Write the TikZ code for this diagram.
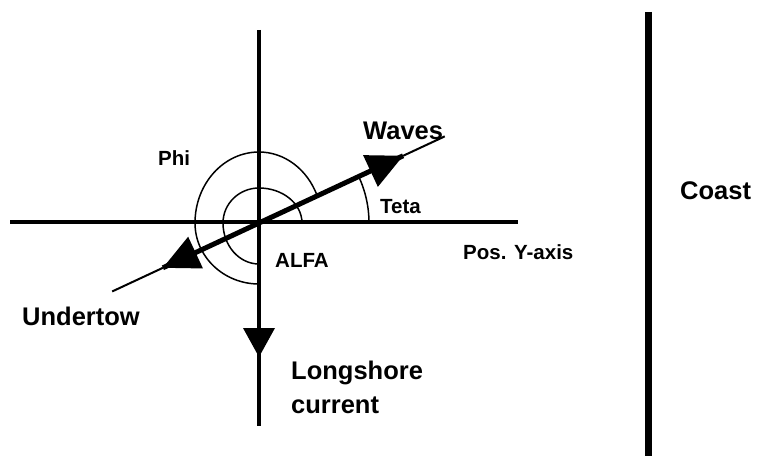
\documentclass[tikz,border=0pt]{standalone}
\usepackage{fontspec}
\setmainfont{Liberation Sans}
\usetikzlibrary{calc}
\tikzset{
  axis/.style={line width=4.5pt},
  thinline/.style={line width=2pt},
  angarc/.style={line width=1.5pt},
  head/.style={fill=black},
  biglabel/.style={inner sep=0pt, font=\fontsize{25.5}{34}\selectfont\bfseries},
  smalllabel/.style={inner sep=0pt, font=\fontsize{20.5}{24}\selectfont\bfseries},
}
\begin{document}
\begin{tikzpicture}[x=1pt,y=1pt]
\useasboundingbox (0,0) rectangle (759,456);
% centre and axis ends
\coordinate (O) at (259,233);
\coordinate (vtop) at (259,426);
\coordinate (vbot) at (259,30);
\coordinate (hl) at (10,234);
\coordinate (hr) at (518,234);
\coordinate (ctop) at (648,444);
\coordinate (cbot) at (648,0);
% wave direction
\coordinate (wtip) at ($(O)+(25:159)$);
\coordinate (wend) at ($(O)+(25:205)$);
\coordinate (wb1) at ($(O)+(25:123)+(115:17.5)$);
\coordinate (wb2) at ($(O)+(25:123)+(-65:17.5)$);
\coordinate (utip) at ($(O)+(205:106)$);
\coordinate (uend) at ($(O)+(205:162)$);
\coordinate (ub1) at ($(O)+(205:70)+(115:17.5)$);
\coordinate (ub2) at ($(O)+(205:70)+(-65:17.5)$);
% longshore arrow
\coordinate (ltip) at (259,99);
\coordinate (lb1) at (243,128);
\coordinate (lb2) at (275,128);

% arcs
\draw[angarc] ($(O)+(110,0)$) arc[start angle=0,end angle=25,radius=110];
\draw[angarc] ($(O)+(43,0)$)
  arc[start angle=0,end angle=90,x radius=43,y radius=35]
  arc[start angle=90,end angle=180,x radius=36,y radius=35]
  arc[start angle=180,end angle=270,x radius=36,y radius=41];
\draw[angarc] ($(O)+(22.5:63 and 71)$)
  arc[start angle=22.5,end angle=90,x radius=63,y radius=71]
  arc[start angle=90,end angle=180,x radius=64,y radius=71]
  arc[start angle=180,end angle=270,x radius=64,y radius=61];

% axes
\draw[axis] (vtop) -- (vbot);
\draw[axis] (hl) -- (hr);
\draw[line width=7pt] (ctop) -- (cbot);

% wave line
\draw[line width=5pt] (utip) -- (wtip);
\draw[thinline] (wtip) -- (wend);
\draw[thinline] (utip) -- (uend);
\fill[head] (wtip) -- (wb1) -- (wb2) -- cycle;
\fill[head] (utip) -- (ub1) -- (ub2) -- cycle;
\fill[head] (ltip) -- (lb1) -- (lb2) -- cycle;

% labels
\node[smalllabel, anchor=base west] (phi) at (158,291) {Phi};
\node[biglabel, anchor=base west] (waves) at (363,317) {Waves};
\node[smalllabel, anchor=base west] (teta) at (380,243) {Teta};
\node[smalllabel, anchor=base west] (alfa) at (275,189) {ALFA};
\node[smalllabel, anchor=base west] (posy) at (463,197) {Pos. Y-axis};
\node[biglabel, anchor=base west, align=left] (long) at (291,43) {Longshore\\current};
\node[biglabel, anchor=base west] (coast) at (680,257) {Coast};
\node[biglabel, anchor=base west] (under) at (22,131) {Undertow};
\end{tikzpicture}
\end{document}
